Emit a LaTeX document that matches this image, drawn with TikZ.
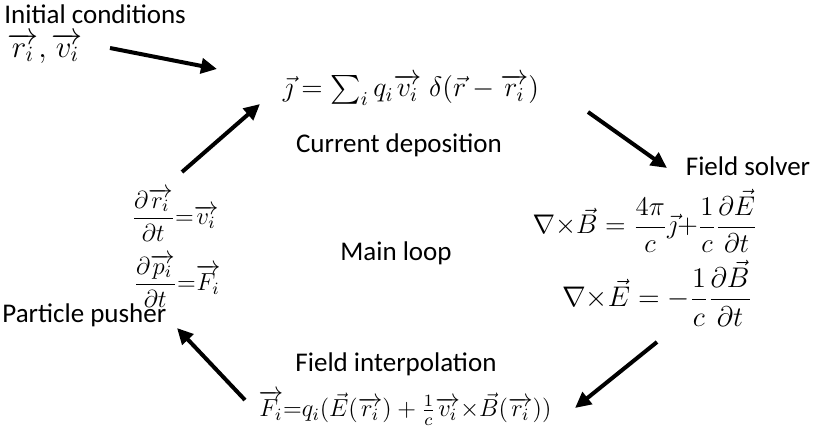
\RequirePackage{fix-cm}
\documentclass[tikz,border=0pt]{standalone}
\usepackage{amsmath}
\usepackage{fontspec}
\setmainfont{Carlito}
\usetikzlibrary{positioning, arrows.meta}

\begin{document}
\begin{tikzpicture}[
    x=0.5pt, y=-0.5pt, % one unit = one pixel of the sketch
    every node/.style={font=\fontsize{13.5}{16}\selectfont, inner sep=0pt},
    eqn/.style={font=\fontsize{13.5}{16}\selectfont},
    smalleqn/.style={font=\fontsize{12.3}{15}\selectfont},
    flow/.style={-{Triangle[length=8pt,width=7.5pt]}, line width=2pt}
]
    \useasboundingbox (0,0) rectangle (813,434);

    % Start values
    \node (init) [anchor=west] at (4,14) {Initial conditions};
    \node (rv) [anchor=west, font=\fontsize{15.5}{18}\selectfont] at (7,48) {$\overrightarrow{r_i}, \overrightarrow{v_i}$};

    % Current deposition
    \node (jeq) [font=\fontsize{14}{17}\selectfont] at (411,90) {$\vec{\jmath} = \sum_i q_i \overrightarrow{v_i}\;\delta(\vec{r} - \overrightarrow{r_i})$};
    \node (curdep) at (399,145) {Current deposition};

    % Field solver
    \node (solver) at (748,166) {Field solver};
    \node (curlB) [eqn] at (645,221) {$\nabla{\times}\vec{B} = \dfrac{4\pi}{c}\vec{\jmath}{+}\dfrac{1}{c}\dfrac{\partial\vec{E}}{\partial t}$};
    \node (curlE) [font=\fontsize{14.2}{17}\selectfont] at (657,293) {$\nabla{\times}\vec{E} = -\dfrac{1}{c}\dfrac{\partial\vec{B}}{\partial t}$};

    % Field interpolation
    \node (interp) at (396,364) {Field interpolation};
    \node (Feq) [smalleqn] at (405,408) {$\overrightarrow{F_i}{=}q_i(\vec{E}(\overrightarrow{r_i}) + \frac{1}{c}\overrightarrow{v_i}{\times}\vec{B}(\overrightarrow{r_i}))$};

    % Particle pusher
    \node (dr) [smalleqn] at (175,215) {$\dfrac{\partial\overrightarrow{r_i}}{\partial t}{=}\overrightarrow{v_i}$};
    \node (dp) [smalleqn] at (177,281) {$\dfrac{\partial\overrightarrow{p_i}}{\partial t}{=}\overrightarrow{F_i}$};
    \node (pusher) [anchor=west] at (2,315) {Particle pusher};

    \node (main) at (396,253) {Main loop};

    % Arrow ends
    \coordinate (initOut) at (110,48);
    \coordinate (depIn) at (217,69);
    \coordinate (depOut) at (588,112);
    \coordinate (solverIn) at (667,168);
    \coordinate (solverOut) at (657,342);
    \coordinate (interpIn) at (575,408);
    \coordinate (interpOut) at (245,400);
    \coordinate (pusherIn) at (177,328);
    \coordinate (pusherOut) at (182,172);
    \coordinate (loopIn) at (260,104);

    \draw [flow] (initOut) -- (depIn);
    \draw [flow] (depOut) -- (solverIn);
    \draw [flow] (solverOut) -- (interpIn);
    \draw [flow] (interpOut) -- (pusherIn);
    \draw [flow] (pusherOut) -- (loopIn);
\end{tikzpicture}
\end{document}
